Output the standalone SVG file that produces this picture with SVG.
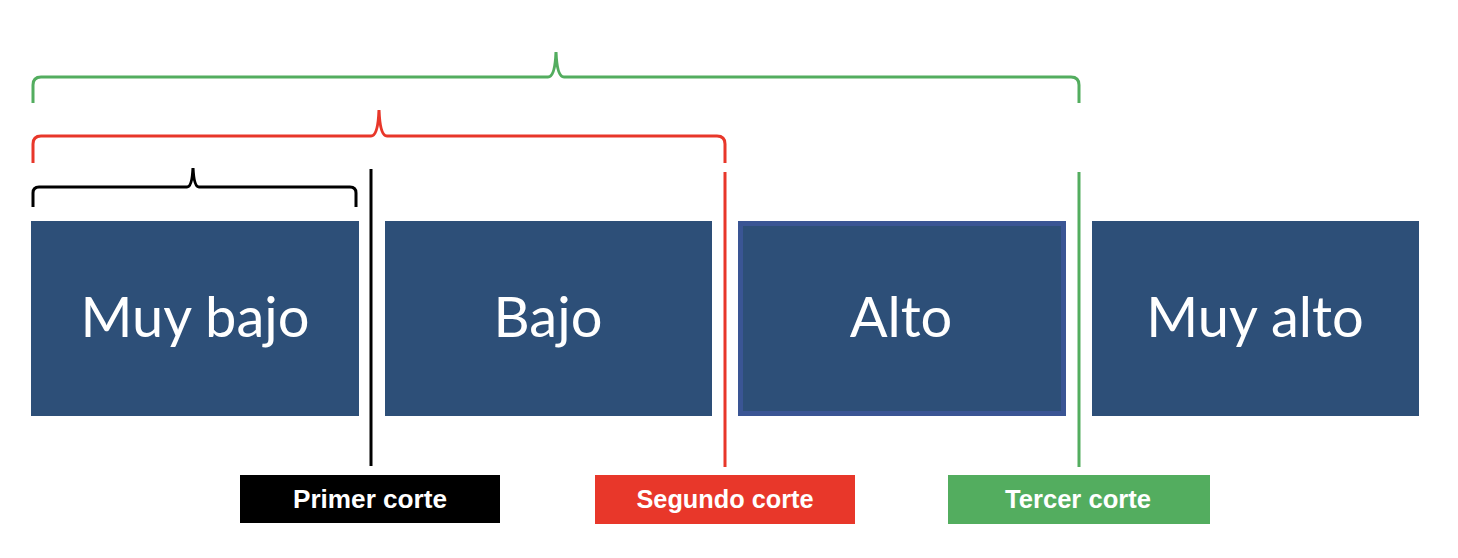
<svg xmlns="http://www.w3.org/2000/svg" width="1458" height="558" viewBox="0 0 1458 558">
<style>
.box{fill:#2d4f78}
.bt{font-family:Lato,"Open Sans",sans-serif;font-size:56px;fill:#fff;text-anchor:middle}
.lt{font-family:"Liberation Sans",Arial,sans-serif;font-weight:bold;font-size:25px;fill:#fff;text-anchor:middle}
.br{fill:none;stroke-width:3}
</style>
<rect width="1458" height="558" fill="#fff"/>
<g id="muy-bajo"><rect class="box" x="31" y="221" width="328" height="195"/><text class="bt" x="195" y="337">Muy bajo</text></g>
<g id="bajo"><rect class="box" x="385" y="221" width="327" height="195"/><text class="bt" x="548" y="337">Bajo</text></g>
<g id="alto"><rect class="box" x="740.5" y="223.5" width="323" height="190" stroke="#3a5594" stroke-width="5"/><text class="bt" x="901" y="337">Alto</text></g>
<g id="muy-alto"><rect class="box" x="1092" y="221" width="327" height="195"/><text class="bt" x="1255" y="337">Muy alto</text></g>
<g id="connectors">
<path class="br" stroke="#53ad5f" d="M33,103 L33,85 Q33,77 41,77 L548,77 Q555,77 556,52 Q557,77 564,77 L1071,77 Q1079,77 1079,85 L1079,103"/>
<path class="br" stroke="#e8372a" d="M33,163 L33,144 Q33,136 41,136 L371,136 Q378,136 379,110 Q380,136 387,136 L717,136 Q725,136 725,144 L725,163"/>
<path class="br" stroke="#000" d="M33,207 L33,193 Q33,187 39,187 L187,187 Q192,187 193,168 Q194,187 199,187 L350,187 Q356,187 356,193 L356,207"/>
<line x1="371" y1="169" x2="371" y2="466" stroke="#000" stroke-width="3"/>
<line x1="725" y1="172" x2="725" y2="467" stroke="#e8372a" stroke-width="3"/>
<line x1="1079" y1="172" x2="1079" y2="467" stroke="#53ad5f" stroke-width="3"/>
</g>
<g id="primer-corte"><rect x="240" y="475" width="260" height="48" fill="#000"/><text class="lt" x="370" y="508" textLength="154" lengthAdjust="spacingAndGlyphs">Primer corte</text></g>
<g id="segundo-corte"><rect x="595" y="475" width="260" height="49" fill="#e8372a"/><text class="lt" x="725" y="508" textLength="177" lengthAdjust="spacingAndGlyphs">Segundo corte</text></g>
<g id="tercer-corte"><rect x="948" y="475" width="262" height="49" fill="#53ad5f"/><text class="lt" x="1078" y="508" textLength="146" lengthAdjust="spacingAndGlyphs">Tercer corte</text></g>
</svg>
